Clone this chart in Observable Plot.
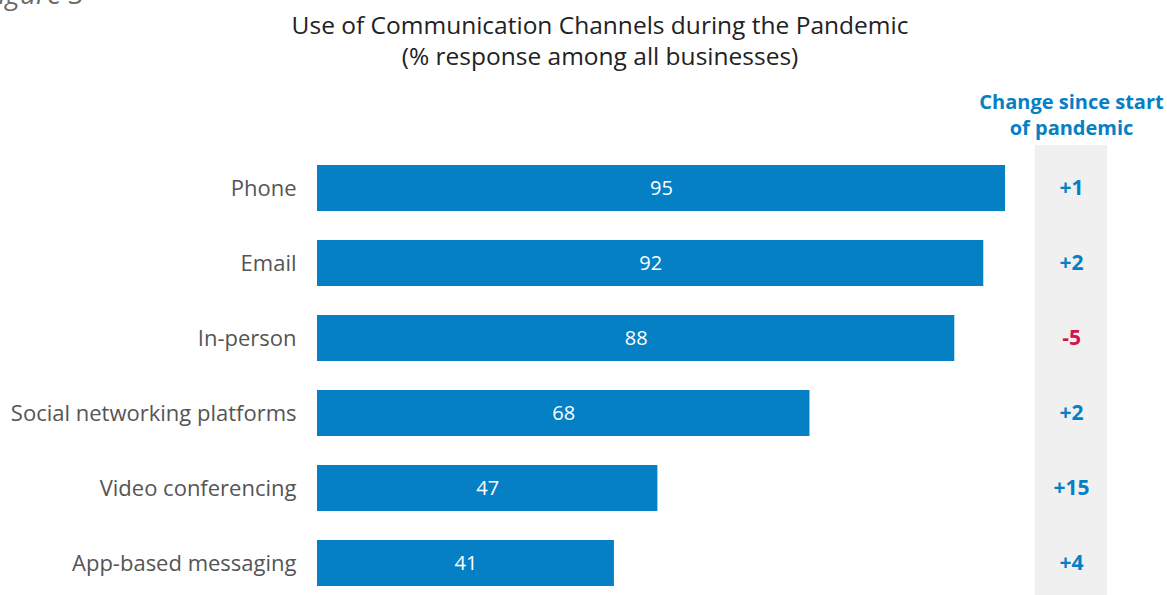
<!DOCTYPE html>
<html>
<head>
<meta charset="utf-8">
<script src="https://cdn.jsdelivr.net/npm/d3@7"></script>
<script src="https://cdn.jsdelivr.net/npm/@observablehq/plot@0.6"></script>
<style>
  html, body { margin: 0; padding: 0; background: #fff; }
  #wrap { position: relative; width: 1167px; height: 595px; overflow: hidden; font-family: "Open Sans", "Noto Sans", sans-serif; }
  #fig { position: absolute; left: -15px; top: -22px; font-size: 28px; font-style: italic; color: #6b6b6b; line-height: 30px; white-space: nowrap; }
  #title { position: absolute; left: 0; top: 9px; width: 1200px; text-align: center; font-size: 24.5px; color: #222; line-height: 31px; }
  #chart { position: absolute; left: 0; top: 0; }
</style>
</head>
<body>
<div id="wrap">
  <div id="chart"></div>
  <div id="fig">Figure 3</div>
  <div id="title">Use of Communication Channels during the Pandemic<br>(% response among all businesses)</div>
</div>
<script>
const categories = ["Phone", "Email", "In-person", "Social networking platforms", "Video conferencing", "App-based messaging"];
const values = [95, 92, 88, 68, 47, 41];
const changes = ["+1", "+2", "-5", "+2", "+15", "+4"];
const changeHeader = "Change since start\nof pandemic";

const data = categories.map((c, i) => ({category: c, value: values[i], change: changes[i]}));

const blue = "#0580c5";
const red = "#d0144c";

const plot = Plot.plot({
  width: 1167,
  height: 595,
  marginLeft: 317,
  marginRight: 162,
  marginTop: 145,
  marginBottom: 0,
  style: {fontFamily: "'Open Sans', 'Noto Sans', sans-serif", background: "transparent"},
  x: {domain: [0, 95], axis: null},
  y: {domain: categories, paddingInner: 0.387, paddingOuter: 0.1933, align: 0.69, label: null},
  marks: [
    Plot.rect([{}], {x1: 99.1, x2: 109.1, fill: "#f0f0f0"}),
    Plot.barX(data, {y: "category", x: "value", fill: blue}),
    Plot.text(data, {y: "category", x: d => d.value / 2, text: d => String(d.value), fill: "white", fontSize: 20}),
    Plot.text(data, {y: "category", frameAnchor: "right", dx: 66, textAnchor: "middle", text: "change", fill: d => d.change.startsWith("-") ? red : blue, fontSize: 21, fontWeight: "bold"}),
    Plot.text([changeHeader], {frameAnchor: "top-right", dx: 66, dy: -32, textAnchor: "middle", text: d => d, lineAnchor: "middle", lineHeight: 1.3, fill: blue, fontSize: 20, fontWeight: "bold"}),
    Plot.axisY({tickSize: 0, tickPadding: 21, fontSize: 22, color: "#555", label: null})
  ]
});
plot.querySelectorAll("[aria-label='y-axis tick label'] text").forEach(t => t.setAttribute("fill", "#555"));
document.getElementById("chart").appendChild(plot);
</script>
</body>
</html>
